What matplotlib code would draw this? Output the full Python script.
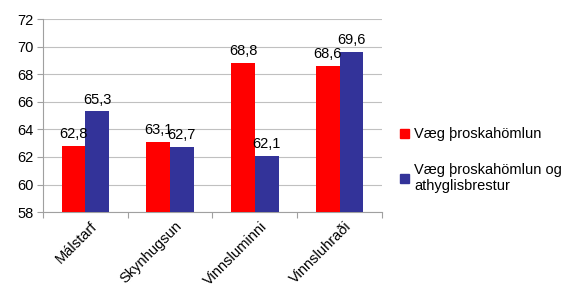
import numpy as np
import matplotlib.pyplot as plt
from matplotlib.patches import Patch

plt.rcParams['font.family'] = ['Liberation Sans', 'DejaVu Sans']

categories = ["Málstarf", "Skynhugsun", "Vinnsluminni", "Vinnsluhraði"]
weak = [62.8, 63.1, 68.8, 68.6]
weak_adhd = [65.3, 62.7, 62.1, 69.6]
series_names = ["Væg þroskahömlun", "Væg þroskahömlun og\nathyglisbrestur"]
colors = ["#ff0000", "#333399"]

fig = plt.figure(figsize=(5.65, 2.93), dpi=100)
ax = fig.add_axes([0.076, 0.276, 0.600, 0.659])

x = np.arange(len(categories))
w = 0.28
b1 = ax.bar(x - w/2, np.array(weak) - 58, w, bottom=58, color=colors[0], zorder=3)
b2 = ax.bar(x + w/2, np.array(weak_adhd) - 58, w, bottom=58, color=colors[1], zorder=3)

for bars, vals in [(b1, weak), (b2, weak_adhd)]:
    for r, v in zip(bars, vals):
        ax.text(r.get_x() + r.get_width()/2, v + 0.35, f"{v:.1f}".replace(".", ","),
                ha="center", va="bottom", fontsize=10.5, zorder=4)

ax.set_ylim(58, 72)
ax.set_yticks(np.arange(58, 73, 2))
ax.set_xlim(-0.5, len(categories) - 0.5)
ax.yaxis.grid(True, color="#c0c0c0", linewidth=0.8, zorder=0)
ax.set_axisbelow(True)

ax.set_xticks(np.arange(len(categories) + 1) - 0.5)
ax.set_xticklabels([])
ax.tick_params(axis="x", length=4, color="#a0a0a0", direction="out")
ax.tick_params(axis="y", length=4, color="#a0a0a0", labelsize=10.5, pad=3)
for i, c in enumerate(categories):
    ax.text(i + 0.06, 57.5, c, rotation=45, ha="right", va="top", fontsize=10.5,
            rotation_mode="anchor")

for s in ["top", "right"]:
    ax.spines[s].set_visible(False)
for s in ["left", "bottom"]:
    ax.spines[s].set_color("#a0a0a0")

handles = [Patch(color=colors[0]), Patch(color=colors[1])]
fig.legend(handles, series_names, loc="upper left", bbox_to_anchor=(0.685, 0.61),
           frameon=False, fontsize=10.5, handlelength=0.6, handleheight=0.6,
           handletextpad=0.35, labelspacing=1.5)

fig.savefig("out.png", dpi=100)
